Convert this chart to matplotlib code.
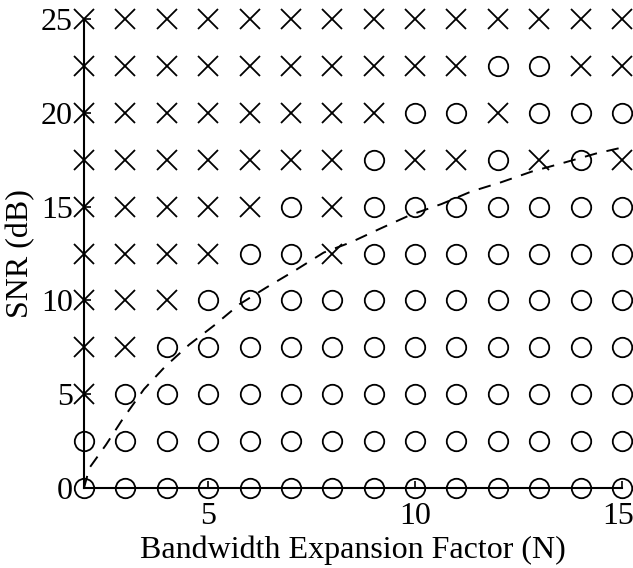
import numpy as np
import matplotlib
matplotlib.use('Agg')
import matplotlib.pyplot as plt
import matplotlib.transforms as mtransforms

plt.rcParams['font.family'] = ['Liberation Serif', 'DejaVu Serif']
plt.rcParams['lines.scale_dashes'] = False

# bandwidth expansion factors (columns) and SNR levels (rows)
n_values = list(range(2, 16))
snr_values = [0, 2.5, 5, 7.5, 10, 12.5, 15, 17.5, 20, 22.5, 25]

# outcome at each grid point: 'o' or 'x', one string per SNR row, N = 2..15
outcomes = [
    'oooooooooooooo',  # 0
    'oooooooooooooo',  # 2.5
    'xooooooooooooo',  # 5
    'xxoooooooooooo',  # 7.5
    'xxxooooooooooo',  # 10
    'xxxxooxooooooo',  # 12.5
    'xxxxxoxooooooo',  # 15
    'xxxxxxxoxxoxox',  # 17.5
    'xxxxxxxxooxooo',  # 20
    'xxxxxxxxxxooxx',  # 22.5
    'xxxxxxxxxxxxxx',  # 25
]

# dashed boundary curve
curve_n = [2, 2.13, 2.53, 2.93, 3.45, 3.95, 4.54, 5.14, 5.76, 6.4, 7.08, 7.79,
           8.45, 9.17, 9.88, 10.64, 11.35, 12.08, 12.82, 13.53, 14.37, 15]
curve_snr = [0, 1.07, 2.3, 3.66, 5.27, 6.45, 7.64, 8.66, 9.8, 10.68, 11.57, 12.55,
             13.1, 13.84, 14.55, 15.14, 15.8, 16.3, 16.87, 17.3, 17.83, 18.15]

fig = plt.figure(figsize=(6.33, 5.68), dpi=100)
ax = fig.add_axes([0.1327, 0.1408, 0.85, 0.8257])

ox, oy, xx, xy = [], [], [], []
for snr, row in zip(snr_values, outcomes):
    for n, c in zip(n_values, row):
        if c == 'o':
            ox.append(n)
            oy.append(snr)
        else:
            xx.append(n)
            xy.append(snr)

ax.plot(ox, oy, 'o', ms=14, mfc='none', mec='black', mew=1.3, clip_on=False, zorder=3)
ax.plot(xx, xy, 'x', ms=14, mec='black', mew=1.3, clip_on=False, zorder=3)
ax.plot(curve_n, curve_snr, color='black', lw=1.4, dashes=(9, 7), clip_on=False, zorder=2)

ax.set_xlim(2, 15)
ax.set_ylim(0, 25)
ax.set_xticks([5, 10, 15])
ax.set_yticks([0, 5, 10, 15, 20, 25])
ax.tick_params(direction='in', length=5, width=1.2, labelsize=23)
ax.tick_params(axis='x', pad=10)
ax.tick_params(axis='y', pad=8)
for s in ['top', 'right']:
    ax.spines[s].set_visible(False)
for s in ['left', 'bottom']:
    ax.spines[s].set_linewidth(1.5)

# keep the last x tick label inside the figure edge
last = ax.get_xticklabels()[-1]
last.set_transform(last.get_transform() + mtransforms.ScaledTranslation(-4 / 100, 0, fig.dpi_scale_trans))

ax.set_xlabel('Bandwidth Expansion Factor (N)', fontsize=23, labelpad=3)
ax.set_ylabel('SNR (dB)', fontsize=23, labelpad=4)

fig.savefig('out.png', dpi=100)
